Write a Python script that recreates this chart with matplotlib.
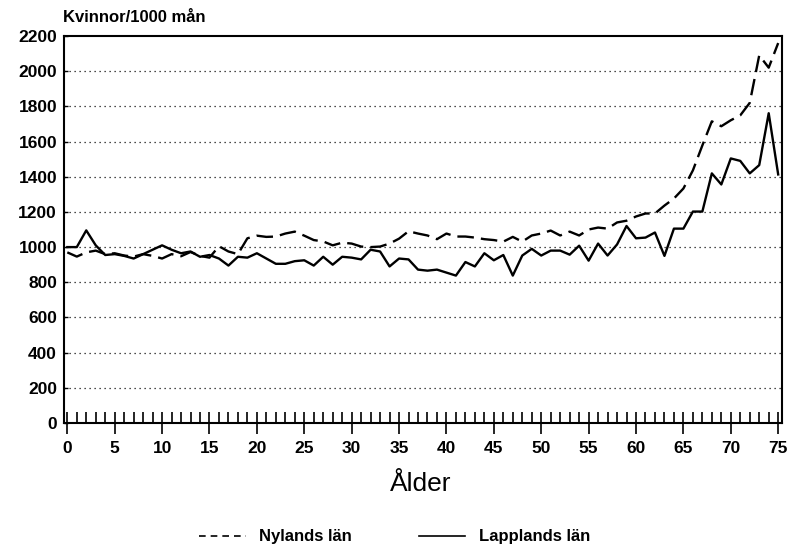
import numpy as np
import matplotlib
matplotlib.use("Agg")
import matplotlib.pyplot as plt
from matplotlib.lines import Line2D
from matplotlib.ticker import MultipleLocator

plt.rcParams['font.family'] = ['Liberation Sans', 'DejaVu Sans']

# Data: women per 1000 men by age
ages = np.arange(0, 76)

nyland = [970, 946, 970, 980, 960, 965, 952, 946, 960, 950,
          935, 960, 948, 972, 950, 940, 1005, 975, 960, 1050,
          1065, 1058, 1060, 1077, 1088, 1065, 1040, 1032, 1010, 1025,
          1020, 1003, 1000, 1003, 1020, 1048, 1090, 1077, 1066, 1045,
          1077, 1060, 1060, 1054, 1045, 1040, 1031, 1058, 1031, 1066,
          1077, 1094, 1066, 1088, 1066, 1100, 1111, 1105, 1140, 1150,
          1174, 1191, 1191, 1236, 1276, 1333, 1436, 1578, 1715, 1687,
          1721, 1749, 1820, 2090, 2020, 2160]

lappland = [1000, 1000, 1095, 1010, 955, 960, 950, 935, 960, 985,
            1010, 985, 965, 975, 945, 955, 935, 895, 945, 940,
            965, 935, 905, 905, 920, 925, 895, 945, 900, 945,
            940, 930, 985, 975, 890, 935, 930, 872, 866, 872,
            855, 838, 915, 890, 965, 925, 955, 838, 952, 990,
            952, 980, 980, 957, 1008, 923, 1020, 952, 1015, 1120,
            1050, 1054, 1083, 950, 1105, 1105, 1202, 1202, 1419, 1356,
            1504, 1490, 1419, 1466, 1761, 1413]

labels = ['Nylands län', 'Lapplands län']
ylabel = 'Kvinnor/1000 mån'
xlabel = 'Ålder'

fig = plt.figure(figsize=(7.89, 5.48), dpi=100)
ax = fig.add_axes([0.0811, 0.2281, 0.9100, 0.7062])

ax.plot(ages, nyland, color='black', lw=1.7, linestyle=(0, (7, 3)))
ax.plot(ages, lappland, color='black', lw=1.7)

ax.set_xlim(-0.35, 75.4)
ax.set_ylim(0, 2200)

ax.yaxis.set_major_locator(MultipleLocator(200))
ax.xaxis.set_major_locator(MultipleLocator(5))
ax.xaxis.set_minor_locator(MultipleLocator(1))

# dotted horizontal grid
for yv in range(200, 2200, 200):
    ax.axhline(yv, color='#111111', lw=0.9, linestyle=(0, (1, 3)), zorder=0)

for s in ax.spines.values():
    s.set_linewidth(1.5)

ax.tick_params(axis='x', which='major', direction='inout', length=16, width=1.2,
               pad=5, labelsize=12.5)
ax.tick_params(axis='x', which='minor', direction='in', length=8, width=1.2)
ax.tick_params(axis='y', which='major', direction='in', length=3, width=1,
               pad=5, labelsize=12.5)
for lab in ax.get_xticklabels() + ax.get_yticklabels():
    lab.set_fontweight('bold')

fig.text(63 / 789, 1 - 17 / 548, ylabel, ha='left', va='center',
         fontsize=12, fontweight='bold')
fig.text(421 / 789, 1 - 484 / 548, xlabel, ha='center', va='center',
         fontsize=19)

handles = [Line2D([], [], color='black', lw=1.2, linestyle=(0, (4, 3))),
           Line2D([], [], color='black', lw=1.2)]
leg = fig.legend(handles, labels, loc='center', bbox_to_anchor=(0.5, 1 - 537 / 548),
                 ncol=2, frameon=False, handlelength=2.8, columnspacing=4,
                 prop={'size': 12, 'weight': 'bold'})

fig.savefig('out.png', dpi=100)
